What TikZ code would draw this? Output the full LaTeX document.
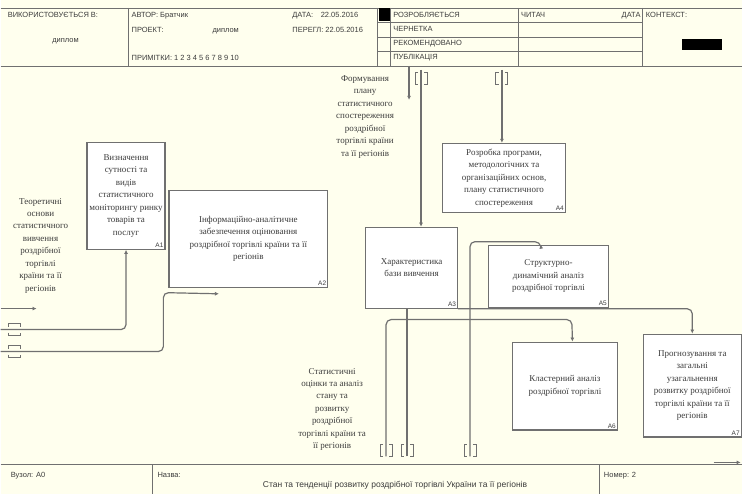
\documentclass[tikz,border=0pt]{standalone}
\usepackage{fontspec}
\setmainfont{Liberation Serif}
\newfontfamily\hdrfont{Liberation Sans}
\usetikzlibrary{arrows.meta}
\definecolor{paper}{RGB}{255,255,238}
\definecolor{linegray}{RGB}{112,112,112}
\definecolor{ink}{RGB}{60,60,60}

\begin{document}
\begin{tikzpicture}[x=1pt,y=-1pt,
    func/.style={draw=linegray,line width=1.2pt,fill=white,anchor=north west,inner sep=1pt,align=center,text=ink,font=\fontsize{9}{12.5}\selectfont},
    num/.style={anchor=south east,inner sep=2pt,text=ink,font=\hdrfont\fontsize{6.5}{6.5}\selectfont},
    lbl/.style={align=center,text=ink,inner sep=0pt,font=\fontsize{9}{12.5}\selectfont},
    arr/.style={draw=linegray,line width=1.2pt,rounded corners=5pt,-{Latex[length=4pt,width=4pt]}},
    plain/.style={draw=linegray,line width=1.2pt},
    tun/.style={draw=linegray,line width=0.9pt},
    grid/.style={draw=linegray,line width=0.8pt},
    hdr/.style={anchor=base west,inner sep=0pt,text=ink,font=\hdrfont\fontsize{7.5}{8}\selectfont}]%
    \fill[paper] (0,0) rectangle (742,495);
    % header
    \draw[grid] (0,8) -- (742,8) (0,66) -- (742,66)
        (128,8) -- (128,66) (377,8) -- (377,66) (390,8) -- (390,66)
        (518,8) -- (518,66) (643,8) -- (643,66)
        (377,22) -- (643,22) (377,37) -- (643,37) (377,51) -- (643,51);
    \fill[black] (379,8) rectangle (390,21);
    \fill[black] (682,39) rectangle (722,50);
    \node[hdr] (used) at (7,18) {ВИКОРИСТОВУЄТЬСЯ В:};
    \node[hdr,anchor=base] (usedv) at (65,43) {диплом};
    \node[hdr] (author) at (131,18) {АВТОР: Братчик};
    \node[hdr] (proj) at (131,33) {ПРОЕКТ:};
    \node[hdr] (projv) at (212,33) {диплом};
    \node[hdr] (date) at (292,18) {ДАТА:\quad 22.05.2016};
    \node[hdr] (rev) at (292,33) {ПЕРЕГЛ:\ 22.05.2016};
    \node[hdr] (notes) at (131,61) {ПРИМІТКИ: 1 2 3 4 5 6 7 8 9 10};
    \node[hdr] (st1) at (393,18) {РОЗРОБЛЯЄТЬСЯ};
    \node[hdr] (st2) at (393,32) {ЧЕРНЕТКА};
    \node[hdr] (st3) at (393,46) {РЕКОМЕНДОВАНО};
    \node[hdr] (st4) at (393,60) {ПУБЛІКАЦІЯ};
    \node[hdr] (reader) at (521,18) {ЧИТАЧ};
    \node[hdr,anchor=base east] (rdate) at (641,18) {ДАТА};
    \node[hdr] (ctx) at (646,18) {КОНТЕКСТ:};
    % footer
    \draw[grid] (0,465) -- (742,465) (152,465) -- (152,495) (600,465) -- (600,495);
    \node[hdr] (node) at (10,478) {Вузол: А0};
    \node[hdr] (name) at (157,478) {Назва:};
    \node[hdr,anchor=base,font=\hdrfont\fontsize{8.5}{9}\selectfont] (title) at (395,488)
        {Стан та тенденції розвитку роздрібної торгівлі України та її регіонів};
    \node[hdr] (numb) at (604,478) {Номер: 2};
    % functions
    \node[func,minimum width=78pt,minimum height=107pt] (A1) at (86,142)
        {Визначення\\сутності та\\видів\\статистичного\\моніторингу ринку\\товарів та\\послуг};
    \node[func,minimum width=159pt,minimum height=97pt] (A2) at (168,190)
        {Інформаційно-аналітичне\\забезпечення оцінювання\\роздрібної торгівлі країни та її\\регіонів};
    \node[func,minimum width=92pt,minimum height=81pt] (A3) at (365,227)
        {Характеристика\\бази вивчення};
    \node[func,minimum width=123pt,minimum height=69pt] (A4) at (442,143)
        {Розробка програми,\\методологічних та\\організаційних основ,\\плану статистичного\\спостереження};
    \node[func,minimum width=120pt,minimum height=62pt] (A5) at (488,245)
        {Структурно-\\динамічний аналіз\\роздрібної торгівлі};
    \node[func,minimum width=105pt,minimum height=88pt] (A6) at (512,342)
        {Кластерний аналіз\\роздрібної торгівлі};
    \node[func,minimum width=98pt,minimum height=103pt] (A7) at (643,334)
        {Прогнозування та\\загальні\\узагальнення\\розвитку роздрібної\\торгівлі країни та її\\регіонів};
    \foreach \b in {A1,A2,A3,A4,A5,A6,A7}
        \node[num] at (\b.south east) {\b};
    % labels
    \node[lbl] (theory) at (40,246)
        {Теоретичні\\основи\\статистичного\\вивчення\\роздрібної\\торгівлі\\країни та її\\регіонів};
    \node[lbl] (plan) at (365,117)
        {Формування\\плану\\статистичного\\спостереження\\роздрібної\\торгівлі країни\\та її регіонів};
    \node[lbl] (estim) at (332,410)
        {Статистичні\\оцінки та аналіз\\стану та\\розвитку\\роздрібної\\торгівлі країни та\\її регіонів};
    % arrows
    \coordinate (inT) at (0,309);
    \coordinate (inTe) at (36,309);
    \coordinate (tL1) at (0,330);
    \coordinate (tL2) at (0,352);
    \coordinate (cF) at (409,66);
    \coordinate (cFe) at (409,100);
    \coordinate (t1) at (421,70);
    \coordinate (t2) at (502,70);
    \coordinate (b1) at (386,457);
    \coordinate (b2) at (407,457);
    \coordinate (b3) at (470,457);
    \coordinate (oR) at (714,463);
    \coordinate (oRe) at (741,463);
    \draw[arr] (inT) -- (inTe);
    \draw[arr] (tL1) -| (A1.south);
    \draw[arr] (tL2) -| (163,293) -- ([xshift=-29.5pt,yshift=-6pt]A2.south);
    \draw[arr] (cF) -- (cFe);
    \draw[arr] (t1) -- (t1 |- A3.north);
    \draw[arr] (t2) -- (t2 |- A4.north);
    \draw[arr] (A3.south east) -| (A7.north);
    \draw[arr] (b1) |- ++(186,-137) -- ([xshift=7.5pt]A6.north);
    \draw[plain] (b2) -- (b2 |- A3.south);
    \draw[arr] (b3) |- ++(70,-215) -- ([xshift=-8pt]A5.north);
    \draw[arr] (oR) -- (oRe);
    % tunnels
    \foreach \x/\y in {421/79,502/79,386/451,407/451,470/451}
        \draw[tun] (\x-3,\y-6) -- (\x-6,\y-6) -- (\x-6,\y+6) -- (\x-3,\y+6)
                   (\x+3,\y-6) -- (\x+6,\y-6) -- (\x+6,\y+6) -- (\x+3,\y+6);
    \foreach \y in {330,352}
        \draw[tun] (8,\y-3) -- (8,\y-6) -- (20,\y-6) -- (20,\y-3)
                   (8,\y+3) -- (8,\y+6) -- (20,\y+6) -- (20,\y+3);
\end{tikzpicture}
\end{document}
